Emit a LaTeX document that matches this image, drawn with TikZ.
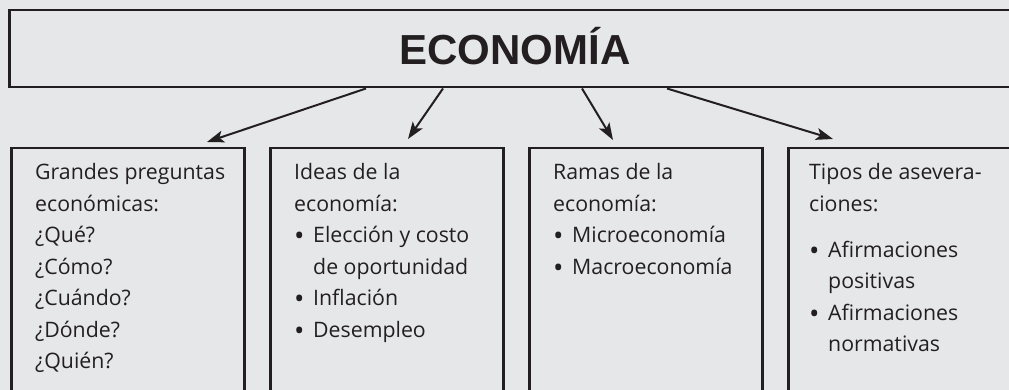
\documentclass[tikz,border=0pt]{standalone}
\usepackage{fontspec}
\setmainfont{Open Sans}
\newfontfamily\titlefont{Liberation Sans}
\usetikzlibrary{arrows.meta,calc}
\definecolor{bg}{HTML}{E6E7E8}
\definecolor{ink}{HTML}{231F20}
\newcommand{\bul}{\makebox[19pt][l]{\raisebox{-3pt}{\scalebox{1.3}{•}}}}
\newcommand{\ind}{\hspace*{19pt}}
\begin{document}
\begin{tikzpicture}[x=1pt,y=-1pt,
 frame/.style={draw=ink,line width=2.5pt,fill=bg,inner sep=0pt,anchor=north west},
 arr/.style={draw=ink,line width=2pt,-{Stealth[length=17pt,width=12pt,inset=4pt]}},
 txt/.style={anchor=base west,inner sep=0pt,text=ink}]
\fill[bg] (0,0) rectangle (1009,390);
\useasboundingbox (0,0) rectangle (1009,390);
\node[frame,minimum width=1013pt,minimum height=77pt] (top) at (8,9) {};
\node[anchor=base,inner sep=0pt,text=ink,font=\titlefont\bfseries\fontsize{42}{42}\selectfont] (title) at (515,65) {ECONOMÍA};
\node[frame,minimum width=233pt,minimum height=260pt] (b1) at (10,147) {};
\node[frame,minimum width=233pt,minimum height=260pt] (b2) at (269,147) {};
\node[frame,minimum width=233pt,minimum height=260pt] (b3) at (528,147) {};
\node[frame,minimum width=233pt,minimum height=260pt] (b4) at (787,147) {};
\node[txt] (t1) at (35,180) {\parbox[t]{210pt}{\fontsize{21.3}{31.5}\selectfont
Grandes preguntas\\ económicas:\\ ¿Qué?\\ ¿Cómo?\\ ¿Cuándo?\\ ¿Dónde?\\ ¿Quién?}};
\node[txt] (t2) at (294,180) {\parbox[t]{210pt}{\fontsize{21.3}{31.5}\selectfont
Ideas de la\\ economía:\\ \bul Elección y costo\\ \ind de oportunidad\\ \bul Inflación\\ \bul Desempleo}};
\node[txt] (t3) at (553,180) {\parbox[t]{210pt}{\fontsize{21.3}{31.5}\selectfont
Ramas de la\\ economía:\\ \bul Microeconomía\\ \bul Macroeconomía}};
\node[txt] (t4) at (809,180) {\parbox[t]{210pt}{\fontsize{21.3}{31.5}\selectfont
Tipos de asevera-\\ ciones:\\[14.5pt] \bul Afirmaciones\\ \ind positivas\\ \bul Afirmaciones\\ \ind normativas}};
\draw[arr] ($(top.south west)+(358,0)$) -- ($(b1.north west)+(197,-5)$);
\draw[arr] ($(top.south west)+(435,0)$) -- ($(b2.north west)+(139,-8)$);
\draw[arr] ($(top.south west)+(574,0)$) -- ($(b3.north west)+(85,-7)$);
\draw[arr] ($(top.south west)+(659,0)$) -- ($(b4.north west)+(46,-8)$);
\end{tikzpicture}
\end{document}
